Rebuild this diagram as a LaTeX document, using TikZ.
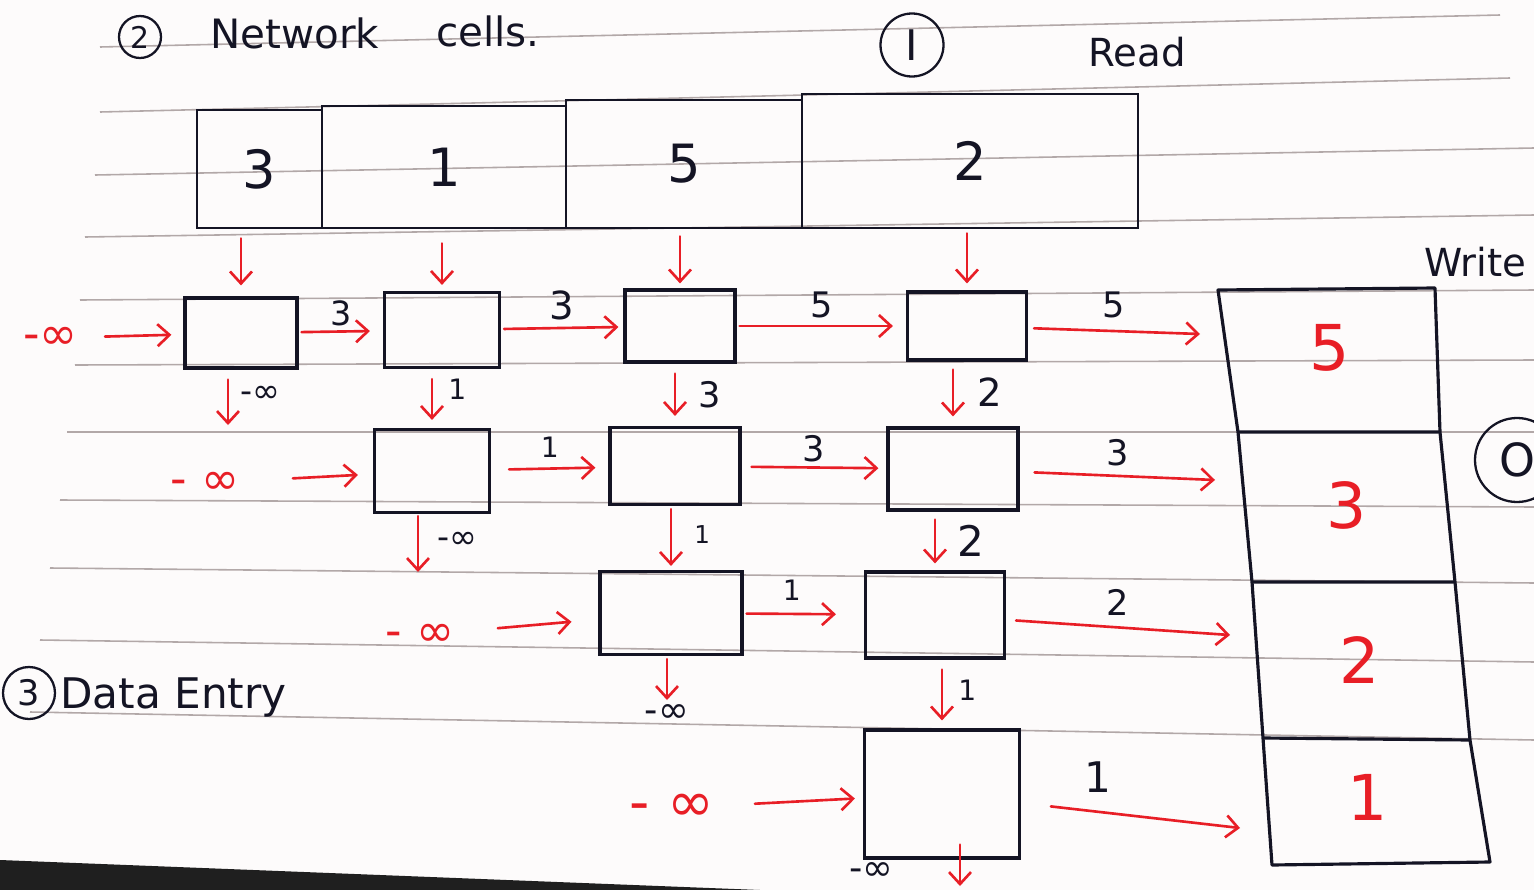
\documentclass[tikz,border=0pt]{standalone}
\usepackage{fontspec}
\setmainfont{DejaVu Sans}
\usetikzlibrary{arrows.meta}
\definecolor{ink}{RGB}{20,20,36}
\definecolor{pen}{RGB}{232,30,38}
\definecolor{ruleline}{RGB}{178,168,168}
\definecolor{paper}{RGB}{253,251,251}
\newcommand{\fsz}[1]{\fontsize{#1}{#1}\selectfont}
\begin{document}
\begin{tikzpicture}[x=0.2mm,y=-0.2mm,
  box/.style={draw=ink, line width=1.8pt, inner sep=0pt},
  cellbox/.style={draw=ink, line width=1.6pt, inner sep=0pt, text=ink, font=\fsz{30}},
  rarr/.style={draw=pen, line width=1.5pt, line cap=round, -{Straight Barb[length=2.4mm,width=4.4mm]}},
  lab/.style={text=ink, inner sep=0pt},
  rinf/.style={text=pen, inner sep=0pt, font=\fsz{26}},
  onum/.style={text=pen, inner sep=0pt, font=\fsz{36}},
  hand/.style={text=ink, inner sep=0pt},
  ring/.style={draw=ink, line width=1.3pt, circle, inner sep=0pt, text=ink},
  paperrule/.style={draw=ruleline, line width=0.9pt}
]
\useasboundingbox (0,0) rectangle (1534,890);
\clip (0,0) rectangle (1534,890);
\fill[paper] (0,0) rectangle (1534,890);

% notebook rules
\foreach \a/\b/\c/\d in {100/47/1500/15, 100/112/1510/78, 95/175/1534/148, 85/237/1534/215,
  80/300/1534/290, 75/365/1534/360, 67/432/1534/432, 60/500/1534/507, 50/568/1534/583,
  40/640/1534/662, 30/712/1534/740}
  \draw[paperrule] (\a,\b) -- (\c,\d);

% dark corner of the page
\fill[black!88] (0,860) -- (760,890) -- (0,890) -- cycle;

% headings
\node[ring, minimum size=8.4mm, font=\fsz{17}] (n2) at (140,37) {2};
\node[hand, font=\fsz{23}, anchor=base west] (tnet) at (210,48) {Network};
\node[hand, font=\fsz{23}, anchor=base west] (tcells) at (436,46) {cells.};
\node[ring, minimum size=12.6mm, font=\fsz{24}] (nI) at (912,45) {I};
\node[hand, font=\fsz{22}, anchor=base west] (tread) at (1088,66) {Read};
\node[hand, font=\fsz{22}, anchor=base west] (twrite) at (1424,276) {Write};
\node[ring, minimum size=16.8mm, font=\fsz{26}] (nO) at (1517,460) {O};
\node[ring, minimum size=10.4mm, font=\fsz{20}] (n3) at (29,693) {3};
\node[hand, font=\fsz{24}, anchor=base west] (tdata) at (60,708) {Data Entry};

% read array
\node[cellbox, minimum width=25mm, minimum height=23.6mm] (c1) at (259.5,169) {3};
\node[cellbox, minimum width=48.8mm, minimum height=24.4mm] (c2) at (444,167) {1};
\node[cellbox, minimum width=47.2mm, minimum height=25.6mm] (c3) at (684,164) {5};
\node[cellbox, minimum width=67.2mm, minimum height=26.8mm] (c4) at (970,161) {2};

% network cells
\node[box, minimum width=22.4mm, minimum height=14mm] (b11) at (241,333) {};
\node[box, minimum width=23mm, minimum height=15mm] (b12) at (442,330) {};
\node[box, minimum width=22mm, minimum height=14.4mm] (b13) at (680,326) {};
\node[box, minimum width=23.8mm, minimum height=13.6mm] (b14) at (967,326) {};
\node[box, minimum width=23mm, minimum height=16.6mm] (b22) at (432,471) {};
\node[box, minimum width=26mm, minimum height=15.4mm] (b23) at (675,466) {};
\node[box, minimum width=26mm, minimum height=16.4mm] (b24) at (953,469) {};
\node[box, minimum width=28.4mm, minimum height=16.6mm] (b33) at (671,613) {};
\node[box, minimum width=27.8mm, minimum height=17.2mm] (b34) at (935,615) {};
\node[box, minimum width=31mm, minimum height=25.6mm] (b44) at (942,794) {};

% write column
\coordinate (oTL) at (1218,290); \coordinate (oTR) at (1435,288);
\coordinate (oL1) at (1238,432); \coordinate (oR1) at (1440,432);
\coordinate (oL2) at (1252,582); \coordinate (oR2) at (1455,582);
\coordinate (oL3) at (1263,738); \coordinate (oR3) at (1470,740);
\coordinate (oBL) at (1272,865); \coordinate (oBR) at (1490,862);
\draw[ink, line width=1.8pt, line join=round] (oTL) -- (oL1) -- (oL2) -- (oL3) -- (oBL) -- (oBR)
  -- (oR3) -- (oR2) -- (oR1) -- (oTR) -- cycle;
\draw[ink, line width=1.8pt] (oL1) -- (oR1) (oL2) -- (oR2) (oL3) -- (oR3);
\node[onum] (o5) at (1330,348) {5};
\node[onum] (o3) at (1347,505) {3};
\node[onum] (o2) at (1360,660) {2};
\node[onum] (o1) at (1368,797) {1};

% read array to first row
\draw[rarr, shorten <=1.8mm, shorten >=2.2mm] (c1.south -| b11.north) -- (b11.north);
\draw[rarr, shorten <=2.8mm, shorten >=1.2mm] (c2.south -| b12.north) -- (b12.north);
\draw[rarr, shorten <=1.4mm, shorten >=1mm] (c3.south -| b13.north) -- (b13.north);
\draw[rarr, shorten <=0.8mm, shorten >=1.4mm] (c4.south -| b14.north) -- (b14.north);

% row 1
\node[rinf, anchor=east] (m1) at (78,338) {-∞};
\draw[rarr, shorten <=5.4mm, shorten >=2.4mm] (m1) -- (b11);
\draw[rarr, shorten <=0.6mm, shorten >=2.6mm] (b11) -- (b12) node[lab, midway, above=0.9mm, font=\fsz{19}] {3};
\draw[rarr, shorten <=0.6mm, shorten >=1mm] (b12) -- (b13) node[lab, midway, above=1.3mm, font=\fsz{22}] {3};
\draw[rarr, shorten <=0.6mm, shorten >=2.6mm] (b13) -- (b14) node[lab, midway, above=1.3mm, font=\fsz{20}] {5};
\coordinate (in5) at (1200,334);
\draw[rarr, shorten <=1.2mm] (b14) -- (in5) node[lab, midway, above=2.3mm, font=\fsz{20}] {5};

% row 1 to row 2
\coordinate (d11) at (228,425);
\draw[rarr, shorten <=2mm] (b11.south -| d11) -- (d11) node[lab, pos=0.45, right=2.2mm, font=\fsz{19}] {-∞};
\draw[rarr, shorten <=2mm, shorten >=1.6mm] (b12.south -| b22.north) -- (b22.north) node[lab, pos=0.35, right=3mm, font=\fsz{16}] {1};
\draw[rarr, shorten <=2mm, shorten >=2mm] (b13.south -| b23.north) -- (b23.north) node[lab, pos=0.5, right=4.4mm, font=\fsz{20}] {3};
\draw[rarr, shorten <=1.6mm, shorten >=2mm] (b14.south -| b24.north) -- (b24.north) node[lab, pos=0.47, right=4.6mm, font=\fsz{22}] {2};

% row 2
\node[rinf, anchor=east] (m2) at (240,483) {- ∞};
\draw[rarr, shorten <=10.6mm, shorten >=3mm] (m2) -- (b22);
\draw[rarr, shorten <=3.6mm, shorten >=2.6mm] (b22) -- (b23) node[lab, midway, above=2mm, font=\fsz{16}] {1};
\draw[rarr, shorten <=2mm, shorten >=1.6mm] (b23) -- (b24) node[lab, midway, above=0.9mm, font=\fsz{20}] {3};
\coordinate (in3) at (1215,480);
\draw[rarr, shorten <=3mm] (b24) -- (in3) node[lab, midway, above=1.7mm, font=\fsz{20}] {3};

% row 2 to row 3
\coordinate (d22) at (418,572);
\draw[rarr, shorten <=0.4mm] (b22.south -| d22) -- (d22) node[lab, pos=0.45, right=3.6mm, font=\fsz{19}] {-∞};
\draw[rarr, shorten <=0.6mm, shorten >=0.8mm] (b23.south -| b33.north) -- (b33.north) node[lab, pos=0.45, right=4.4mm, font=\fsz{14}] {1};
\draw[rarr, shorten <=1.6mm, shorten >=1.4mm] (b24.south -| b34.north) -- (b34.north) node[lab, pos=0.5, right=4.2mm, font=\fsz{24}] {2};

% row 3
\node[rinf, anchor=east] (m3) at (455,635) {- ∞};
\draw[rarr, shorten <=8.6mm, shorten >=5.4mm] (m3) -- (b33);
\draw[rarr, shorten <=0.6mm, shorten >=5.6mm] (b33) -- (b34) node[lab, pos=0.4, above=2.5mm, font=\fsz{16}] {1};
\coordinate (in2) at (1230,635);
\draw[rarr, shorten <=2mm] (b34) -- (in2) node[lab, midway, above=2.1mm, font=\fsz{20}] {2};

% row 3 to row 4
\coordinate (d33) at (667,700);
\draw[rarr, shorten <=0.6mm] (b33.south -| d33) -- (d33) node[lab, below=0.6mm, font=\fsz{21}] {-∞};
\draw[rarr, shorten <=2mm, shorten >=1.6mm] (b34.south -| b44.north) -- (b44.north) node[lab, pos=0.45, right=3mm, font=\fsz{16}] {1};

% row 4
\node[rinf, anchor=east, font=\fsz{32}] (m4) at (715,808) {- ∞};
\draw[rarr, shorten <=8mm, shorten >=1.6mm] (m4) -- (b44);
\coordinate (in1) at (1240,828);
\draw[rarr, shorten <=6mm] (b44) -- (in1) node[lab, pos=0.35, above=3.5mm, font=\fsz{24}] {1};
\coordinate (d44) at (960,886);
\draw[rarr, shorten <=-3mm] (b44.south -| d44) -- (d44) node[lab, pos=0.45, left=13mm, font=\fsz{21}] {-∞};
\end{tikzpicture}
\end{document}
